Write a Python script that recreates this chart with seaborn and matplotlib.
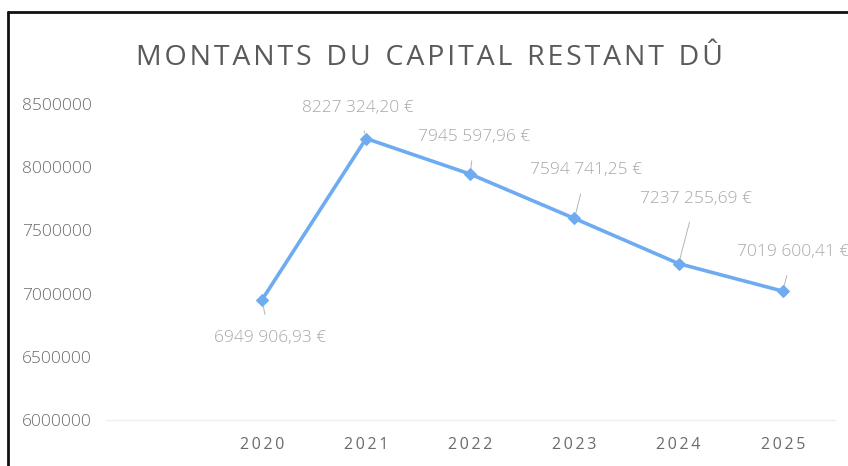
import matplotlib
matplotlib.use("Agg")
import matplotlib.pyplot as plt
import seaborn as sns
import pandas as pd
from matplotlib.lines import Line2D

years = [2020, 2021, 2022, 2023, 2024, 2025]
capital = [6949906.93, 8227324.20, 7945597.96, 7594741.25, 7237255.69, 7019600.41]
y_ticks = [6000000, 6500000, 7000000, 7500000, 8000000, 8500000]
title = "MONTANTS DU CAPITAL RESTANT DÛ"

df = pd.DataFrame({"annee": years, "capital": capital})

sns.set_theme(style="white")
plt.rcParams["font.family"] = ["Open Sans", "DejaVu Sans"]

fig = plt.figure(figsize=(8.48, 4.66), dpi=100)
ax = fig.add_axes([0.1246, 0.0987, 0.860, 0.678])

line_col = "#6FABF0"
sns.lineplot(data=df, x="annee", y="capital", ax=ax, color=line_col, lw=2.6,
             marker="D", markersize=6, markeredgecolor=line_col)

ax.set_xlim(2018.5, 2025.5)
ax.set_ylim(6000000, 8500000)
ax.set_yticks(y_ticks)
ax.set_yticklabels([str(v) for v in y_ticks], color="#6b6b6b", fontsize=12.5,
                   fontweight="light")
ax.set_xticks(years)
ax.set_xticklabels(["\u2009".join(str(y)) for y in years], color="#6b6b6b",
                   fontsize=11.5)
ax.tick_params(axis="y", length=0, pad=10)
ax.tick_params(axis="x", length=0, pad=12)
ax.set_xlabel("")
ax.set_ylabel("")
for s in ["top", "right", "left"]:
    ax.spines[s].set_visible(False)
ax.spines["bottom"].set_color("#eeeeee")
ax.spines["bottom"].set_linewidth(1)


def fmt_fr(v):
    ent, dec = f"{v:.2f}".split(".")
    ent = ent[:-3] + " " + ent[-3:]
    return f"{ent},{dec} €"


offsets = [(8, -38), (-8, 31), (4, 37), (12, 48), (17, 65), (10, 39)]
for x, y, (dx, dy) in zip(years, capital, offsets):
    ax.annotate(fmt_fr(y), xy=(x, y), xytext=(dx, dy), textcoords="offset pixels",
                ha="center", va="center", color="#a8a8a8", fontsize=12.5,
                fontweight="light", annotation_clip=False,
                arrowprops=dict(arrowstyle="-", color="#b5b5b5", lw=0.7,
                                shrinkA=9, shrinkB=4))

spaced_title = "\u200a".join(title).replace("\u200a \u200a", "  ")
fig.text(0.507, 0.876, spaced_title, ha="center", va="center", fontsize=20.5,
         color="#5a5a5a")

# scanned page frame
fig.add_artist(Line2D([0.0095, 0.0095], [0.0, 0.974], transform=fig.transFigure,
                      color="#111111", lw=2))
fig.add_artist(Line2D([0.0095, 1.0], [0.974, 0.974], transform=fig.transFigure,
                      color="#111111", lw=2))

fig.savefig("out.png", dpi=100, facecolor="white")
